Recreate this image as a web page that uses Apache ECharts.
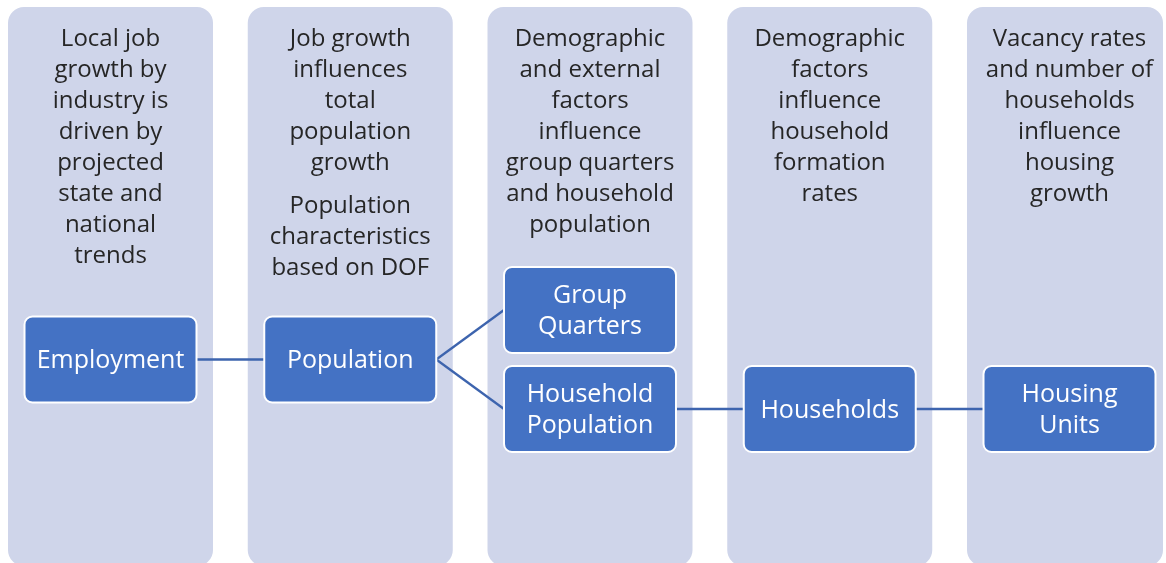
<!DOCTYPE html>
<html><head><meta charset="utf-8">
<script src="https://cdn.jsdelivr.net/npm/echarts/dist/echarts.min.js"></script>
<style>html,body{margin:0;padding:0;background:#fff}#c{width:1166px;height:563px}</style>
</head><body><div id="c"></div>
<script>
// ---- data ----
const columnHeaders = [
  ['Local job\ngrowth by\nindustry is\ndriven by\nprojected\nstate and\nnational\ntrends'],
  ['Job growth\ninfluences\ntotal\npopulation\ngrowth', 'Population\ncharacteristics\nbased on DOF'],
  ['Demographic\nand external\nfactors\ninfluence\ngroup quarters\nand household\npopulation'],
  ['Demographic\nfactors\ninfluence\nhousehold\nformation\nrates'],
  ['Vacancy rates\nand number of\nhouseholds\ninfluence\nhousing\ngrowth']
];
const boxLabels = ['Employment', 'Population', 'Group\nQuarters', 'Household\nPopulation', 'Households', 'Housing\nUnits'];
const boxColumns = [0, 1, 2, 2, 3, 4];
const boxLevels = [0, 0, -1, 1, 1, 1];
const links = [[0, 1], [1, 2], [1, 3], [3, 4], [4, 5]];

// ---- layout / style ----
const W = 1166, H = 563;
const colLeft0 = 8, colStep = 239.75, colW = 205, colTop = 7, colBottom = 566, colRightMax = 1163;
const boxW = 172, boxH = 86, levelY0 = 359.5, levelStep = 49.5;
const headTop = 23.5, lineH = 31, paraGap = 12, boxTextShift = 1.5;
const HEAD_FONT = '24px "Open Sans", sans-serif';
const BOX_FONT = '25px "Open Sans", sans-serif';
const BLUE = '#4472C4', LINE = '#3D64AE', PALE = '#CFD5EA', TEXT = '#262626';

const colCenter = i => colLeft0 + i * colStep + colW / 2;
const boxCenter = b => [colCenter(boxColumns[b]), levelY0 + boxLevels[b] * levelStep];

const chart = echarts.init(document.getElementById('c'), null, {renderer: 'canvas'});
chart.setOption({
  animation: false,
  grid: {left: 0, right: 0, top: 0, bottom: 0},
  xAxis: {type: 'value', min: 0, max: W, show: false},
  yAxis: {type: 'value', min: 0, max: H, inverse: true, show: false},
  series: [
    {
      type: 'custom', z: 1,
      data: columnHeaders.map((h, i) => [i]),
      renderItem: (params, api) => {
        const i = api.value(0);
        const left = colLeft0 + i * colStep;
        const right = Math.min(left + colW, colRightMax);
        const p0 = api.coord([left, colTop]);
        const p1 = api.coord([right, colBottom]);
        const cx = api.coord([colCenter(i), 0])[0];
        const children = [{
          type: 'rect',
          shape: {x: p0[0], y: p0[1], width: p1[0] - p0[0], height: p1[1] - p0[1], r: 16},
          style: {fill: PALE}
        }];
        let y = headTop;
        columnHeaders[i].forEach(par => {
          const ty = api.coord([0, y])[1];
          children.push({
            type: 'text',
            style: {text: par, x: cx, y: ty, fill: TEXT, font: HEAD_FONT, align: 'center', verticalAlign: 'top', lineHeight: lineH}
          });
          y += par.split('\n').length * lineH + paraGap;
        });
        return {type: 'group', children};
      }
    },
    {
      type: 'custom', z: 2,
      data: links.map(l => l),
      renderItem: (params, api) => {
        const s = api.value(0), t = api.value(1);
        const a = boxCenter(s), b = boxCenter(t);
        const p = api.coord([a[0] + boxW / 2, a[1]]);
        const q = api.coord([b[0] - boxW / 2, b[1]]);
        return {type: 'line', shape: {x1: p[0], y1: p[1], x2: q[0], y2: q[1]}, style: {stroke: LINE, lineWidth: 2.3}};
      }
    },
    {
      type: 'custom', z: 3,
      data: boxLabels.map((n, i) => [i]),
      renderItem: (params, api) => {
        const b = api.value(0);
        const c = boxCenter(b);
        const p0 = api.coord([c[0] - boxW / 2, c[1] - boxH / 2]);
        const p1 = api.coord([c[0] + boxW / 2, c[1] + boxH / 2]);
        const pc = api.coord([c[0], c[1] + boxTextShift]);
        return {
          type: 'group',
          children: [
            {type: 'rect', shape: {x: p0[0], y: p0[1], width: p1[0] - p0[0], height: p1[1] - p0[1], r: 8},
             style: {fill: BLUE, stroke: '#fff', lineWidth: 2}},
            {type: 'text', style: {text: boxLabels[b], x: pc[0], y: pc[1], fill: '#fff', font: BOX_FONT, align: 'center', verticalAlign: 'middle', lineHeight: lineH}}
          ]
        };
      }
    }
  ]
});
</script></body></html>
